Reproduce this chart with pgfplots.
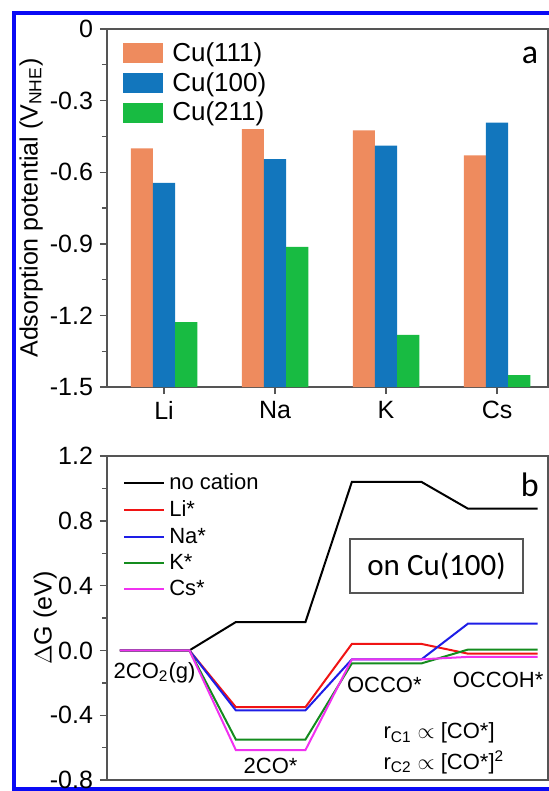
\documentclass[border=0pt]{standalone}
\usepackage{pgfplots}
\pgfplotsset{compat=1.18}
\usepackage{pgfplotstable}
\usepackage{fontspec}
\setmainfont{Liberation Sans}
\newfontfamily\calib{Carlito}
\definecolor{corange}{RGB}{238,139,94}
\definecolor{cblue}{RGB}{18,118,189}
\definecolor{cgreen}{RGB}{24,187,66}
\definecolor{axgray}{RGB}{85,85,85}
\definecolor{lred}{RGB}{240,20,20}
\definecolor{lblue}{RGB}{30,30,230}
\definecolor{lgreen}{RGB}{20,140,30}
\definecolor{lmag}{RGB}{240,50,240}
\definecolor{frameblue}{RGB}{10,10,245}

\pgfplotstableread{
x  c111   c100   c211
0  -0.50  -0.645 -1.228
1  -0.42  -0.545 -0.913
2  -0.425 -0.489 -1.282
3  -0.529 -0.392 -1.45
}\bardata

\begin{document}
\begin{tikzpicture}
\useasboundingbox (0,0) rectangle (274.5pt,-395.5pt);
\draw[frameblue, line width=2pt] (276pt,-6.5pt) -- (7pt,-6.5pt) -- (7pt,-394.3pt) -- (276pt,-394.3pt);

% ---------------- panel a ----------------
\begin{axis}[
  at={(53.5pt,-14.5pt)}, anchor=north west,
  width=220.5pt, height=179pt, scale only axis,
  xmin=-0.514, xmax=3.459, ymin=0, ymax=1.5,
  ybar=0pt, bar width=0.2,
  xtick={0,1,2,3}, xticklabels={Li,Na,K,Cs},
  ytick={0,0.3,0.6,0.9,1.2,1.5},
  yticklabels={-1.5,-1.2,-0.9,-0.6,-0.3,0},
  minor y tick num=1,
  xtick pos=bottom, ytick pos=left, tick align=outside,
  major tick length=3.5pt, minor tick length=2.5pt,
  axis line style={axgray, line width=0.9pt},
  every tick/.style={axgray, line width=0.7pt},
  tick label style={font=\fontsize{12.5}{14}\selectfont, black},
  ylabel={Adsorption potential (V\textsubscript{NHE})},
  ylabel style={at={(axis description cs:-0.172,0.5)}, anchor=center, font=\fontsize{12.5}{14}\selectfont},
  legend image code/.code={\fill[#1] (0pt,-5pt) rectangle (20pt,5pt);},
  legend style={at={(rel axis cs:0.036,0.975)}, anchor=north west, draw=none, fill=none,
    font=\fontsize{13}{14}\selectfont, row sep=0pt, column sep=2.5pt, inner sep=0pt},
  legend cell align=left,
]
\addplot[fill=corange, draw=none] table[x=x, y expr=\thisrow{c111}+1.5] {\bardata};
\addplot[fill=cblue, draw=none] table[x=x, y expr=\thisrow{c100}+1.5] {\bardata};
\addplot[fill=cgreen, draw=none] table[x=x, y expr=\thisrow{c211}+1.5] {\bardata};
\legend{Cu(111),Cu(100),Cu(211)}
\node[font=\calib\fontsize{17}{20}\selectfont] at (rel axis cs:0.959,0.925) {a};
\end{axis}

% ---------------- panel b ----------------
\begin{axis}[
  at={(53.5pt,-228pt)}, anchor=north west,
  width=220.5pt, height=162pt, scale only axis,
  xmin=-0.41, xmax=3.39, ymin=-0.8, ymax=1.2,
  xtick=\empty,
  ytick={-0.8,-0.4,0,0.4,0.8,1.2},
  minor y tick num=1,
  ytick pos=left, tick align=outside,
  major tick length=3.5pt, minor tick length=2.5pt,
  axis line style={axgray, line width=0.9pt},
  every tick/.style={axgray, line width=0.7pt},
  tick label style={font=\fontsize{12.5}{14}\selectfont, black},
  /pgf/number format/assume math mode=true,
  yticklabel style={/pgf/number format/fixed, /pgf/number format/precision=1, /pgf/number format/fixed zerofill},
  ylabel={$\Delta$G (eV)},
  ylabel style={at={(axis description cs:-0.14,0.5)}, anchor=center, font=\fontsize{12.5}{14}\selectfont},
  legend image code/.code={\draw[#1] (0pt,0pt) -- (20pt,0pt);},
  legend style={at={(rel axis cs:0.036,0.958)}, anchor=north west, draw=none, fill=none,
    font=\fontsize{11}{13}\selectfont, row sep=0pt, inner sep=0pt},
  legend cell align=left,
]
\addplot[black, line width=1pt] coordinates {(-0.3,0)(0.3,0)(0.7,0.175)(1.3,0.175)(1.7,1.04)(2.3,1.04)(2.7,0.875)(3.3,0.875)};
\addplot[lred, line width=1pt] coordinates {(-0.3,0)(0.3,0)(0.7,-0.35)(1.3,-0.35)(1.7,0.04)(2.3,0.04)(2.7,-0.02)(3.3,-0.02)};
\addplot[lblue, line width=1pt] coordinates {(-0.3,0)(0.3,0)(0.7,-0.37)(1.3,-0.37)(1.7,-0.055)(2.3,-0.055)(2.7,0.165)(3.3,0.165)};
\addplot[lgreen, line width=1pt] coordinates {(-0.3,0)(0.3,0)(0.7,-0.55)(1.3,-0.55)(1.7,-0.08)(2.3,-0.08)(2.7,0.005)(3.3,0.005)};
\addplot[lmag, line width=1pt] coordinates {(-0.3,0)(0.3,0)(0.7,-0.615)(1.3,-0.615)(1.7,-0.055)(2.3,-0.055)(2.7,-0.04)(3.3,-0.04)};
\legend{no cation,Li*,Na*,K*,Cs*}
\node[font=\fontsize{11}{13}\selectfont] at (axis cs:0,-0.136) {2CO\textsubscript{2}(g)};
\node[font=\fontsize{11}{13}\selectfont] at (axis cs:1.0,-0.71) {2CO*};
\node[font=\fontsize{11}{13}\selectfont] at (axis cs:1.98,-0.216) {OCCO*};
\node[font=\fontsize{11}{13}\selectfont] at (axis cs:2.96,-0.18) {OCCOH*};
\node[font=\fontsize{11}{13}\selectfont, anchor=west, inner sep=0pt] at (axis cs:1.97,-0.51) {r\textsubscript{C1} $\propto$ [CO*]};
\node[font=\fontsize{11}{13}\selectfont, anchor=west, inner sep=0pt] at (axis cs:1.97,-0.69) {r\textsubscript{C2} $\propto$ [CO*]\textsuperscript{2}};
\node[draw=axgray, line width=0.8pt, minimum width=86.5pt, minimum height=27pt, inner sep=0pt,
  font=\calib\fontsize{15.5}{18}\selectfont] at (axis cs:2.43,0.52) {on Cu(100)};
\node[font=\calib\fontsize{17}{20}\selectfont] at (rel axis cs:0.959,0.91) {b};
\end{axis}
\end{tikzpicture}
\end{document}
